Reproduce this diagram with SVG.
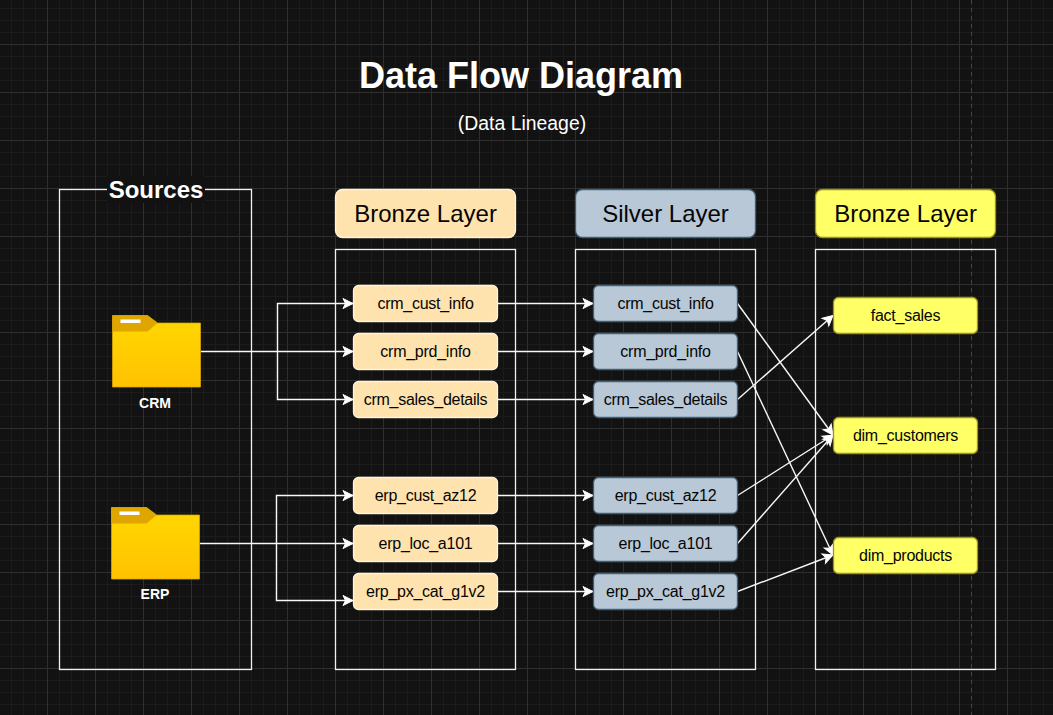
<svg xmlns="http://www.w3.org/2000/svg" width="1053" height="715" viewBox="0 0 1053 715">
<style>
text{font-family:"Liberation Sans",Arial,sans-serif;text-anchor:middle}
.box{fill:none;stroke:#f0f0f0;stroke-width:1.3}
.hd{font-size:24px;fill:#050505}
.n{font-size:16px;letter-spacing:-.26px;fill:#050505}
.b{fill:#ffe3ae;stroke:#fff3dc;stroke-width:1.3}
.s{fill:#b8c8d6;stroke:#3f5f7a;stroke-width:1.3}
.g{fill:#ffff66;stroke:#a09418;stroke-width:1.3}
.e{fill:none;stroke:#f8f8f8;stroke-width:1.4;marker-end:url(#arr)}
.lbl{fill:#fff;font-weight:bold}
</style>
<defs>
<pattern id="minor" width="12" height="12" patternUnits="userSpaceOnUse" x="11" y="8">
<path d="M0 .5H12M.5 0V12" stroke="#1b1b1b" stroke-width="1" fill="none"/>
</pattern>
<pattern id="major" width="48" height="48" patternUnits="userSpaceOnUse" x="47" y="44">
<path d="M0 .5H48M.5 0V48" stroke="#2f2f2f" stroke-width="1" fill="none"/>
</pattern>
<marker id="arr" markerUnits="userSpaceOnUse" markerWidth="12" markerHeight="12" refX="10" refY="5" orient="auto" overflow="visible">
<path d="M0 0L10 5L0 10L2.500 5Z" fill="#fff" stroke="#fff" stroke-width="1"/>
</marker>
<linearGradient id="fold" x1="0" y1="0" x2="0" y2="1">
<stop offset="0" stop-color="#ffd800"/><stop offset="1" stop-color="#ffc200"/>
</linearGradient>
<g id="folder">
<path d="M0 0H35L45 7.500H88V71.500H0Z" fill="url(#fold)" stroke="#d9a300" stroke-width=".8" stroke-linejoin="round"/>
<path d="M0 0H35L45 7.500L35 16H0Z" fill="#dfa600"/>
<rect x="8" y="4" width="20" height="3.500" fill="#fff"/>
</g>
</defs>
<rect width="1053" height="715" fill="#121212"/>
<rect width="1053" height="715" fill="url(#minor)"/>
<rect width="1053" height="715" fill="url(#major)"/>
<line x1="971.500" y1="0" x2="971.500" y2="715" stroke="#444" stroke-dasharray="4 4"/>

<g id="title"><text x="521" y="87.500" font-size="36" font-weight="bold" fill="#fff">Data Flow Diagram</text>
<text x="522" y="129.500" font-size="19.400" fill="#fff">(Data Lineage)</text></g>

<g id="containers">
<g id="sources"><rect class="box" x="59.500" y="189.500" width="192" height="480"/>
<rect x="107" y="176" width="98" height="27" fill="#121212"/>
<text class="lbl" x="156" y="197.500" font-size="24">Sources</text></g>
<rect class="box" x="335.500" y="249.500" width="180" height="420"/>
<rect class="box" x="575.500" y="249.500" width="180" height="420"/>
<rect class="box" x="815.500" y="249.500" width="180" height="420"/>
</g>

<g id="connectors">
<path class="e" d="M201 351.500H353"/>
<path class="e" d="M277.500 351.500V303.500H353"/>
<path class="e" d="M277.500 351.500V399.500H353"/>
<path class="e" d="M200 543.500H353"/>
<path class="e" d="M276.500 543.500V495.500H353"/>
<path class="e" d="M276.500 543.500V600.500H353"/>
<path class="e" d="M497.500 303.500H593"/>
<path class="e" d="M497.500 351.500H593"/>
<path class="e" d="M497.500 399.500H593"/>
<path class="e" d="M497.500 495.500H593"/>
<path class="e" d="M497.500 543.500H593"/>
<path class="e" d="M497.500 591.500H593"/>
<path class="e" d="M737.500 303.500L833 435"/>
<path class="e" d="M737.500 351.500L833 555"/>
<path class="e" d="M737.500 399.500L833 315.500"/>
<path class="e" d="M737.500 495.500L833 435"/>
<path class="e" d="M737.500 543.500L833 435"/>
<path class="e" d="M737.500 591.500L833 555"/>
</g>

<g id="crm"><use href="#folder" x="112.500" y="315.500"/><text class="lbl" x="155" y="408" font-size="14">CRM</text></g>
<g id="erp"><use href="#folder" x="111.500" y="507.500"/><text class="lbl" x="155" y="599" font-size="14">ERP</text></g>

<g id="hdr-bronze"><rect class="b" x="335.500" y="189.500" width="180" height="48" rx="7"/><text class="hd" x="425.500" y="222">Bronze Layer</text></g>
<g id="hdr-silver"><rect class="s" x="575.500" y="189.500" width="180" height="48" rx="7"/><text class="hd" x="665.500" y="222">Silver Layer</text></g>
<g id="hdr-gold"><rect class="g" x="815.500" y="189.500" width="180" height="48" rx="7"/><text class="hd" x="905.500" y="222">Bronze Layer</text></g>

<g id="b1"><rect class="b" x="353.500" y="285.500" width="144" height="36" rx="5"/><text class="n" x="425.500" y="309">crm_cust_info</text></g>
<g id="b2"><rect class="b" x="353.500" y="333.500" width="144" height="36" rx="5"/><text class="n" x="425.500" y="357">crm_prd_info</text></g>
<g id="b3"><rect class="b" x="353.500" y="381.500" width="144" height="36" rx="5"/><text class="n" x="425.500" y="405">crm_sales_details</text></g>
<g id="b4"><rect class="b" x="353.500" y="477.500" width="144" height="36" rx="5"/><text class="n" x="425.500" y="501">erp_cust_az12</text></g>
<g id="b5"><rect class="b" x="353.500" y="525.500" width="144" height="36" rx="5"/><text class="n" x="425.500" y="549">erp_loc_a101</text></g>
<g id="b6"><rect class="b" x="353.500" y="573.500" width="144" height="36" rx="5"/><text class="n" x="425.500" y="597">erp_px_cat_g1v2</text></g>

<g id="s1"><rect class="s" x="593.500" y="285.500" width="144" height="36" rx="5"/><text class="n" x="665.500" y="309">crm_cust_info</text></g>
<g id="s2"><rect class="s" x="593.500" y="333.500" width="144" height="36" rx="5"/><text class="n" x="665.500" y="357">crm_prd_info</text></g>
<g id="s3"><rect class="s" x="593.500" y="381.500" width="144" height="36" rx="5"/><text class="n" x="665.500" y="405">crm_sales_details</text></g>
<g id="s4"><rect class="s" x="593.500" y="477.500" width="144" height="36" rx="5"/><text class="n" x="665.500" y="501">erp_cust_az12</text></g>
<g id="s5"><rect class="s" x="593.500" y="525.500" width="144" height="36" rx="5"/><text class="n" x="665.500" y="549">erp_loc_a101</text></g>
<g id="s6"><rect class="s" x="593.500" y="573.500" width="144" height="36" rx="5"/><text class="n" x="665.500" y="597">erp_px_cat_g1v2</text></g>

<g id="g1"><rect class="g" x="833.500" y="297.500" width="144" height="36" rx="5"/><text class="n" x="905.500" y="321">fact_sales</text></g>
<g id="g2"><rect class="g" x="833.500" y="417.500" width="144" height="36" rx="5"/><text class="n" x="905.500" y="441">dim_customers</text></g>
<g id="g3"><rect class="g" x="833.500" y="537.500" width="144" height="36" rx="5"/><text class="n" x="905.500" y="561">dim_products</text></g>
</svg>
